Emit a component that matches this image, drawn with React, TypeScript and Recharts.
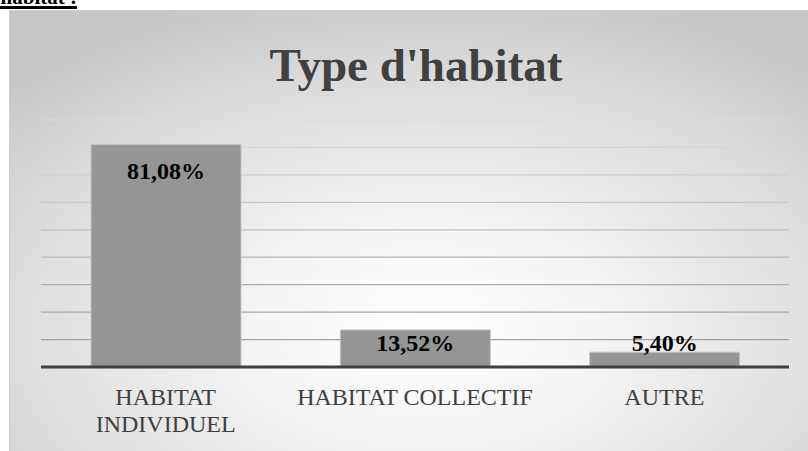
import React from "react";
import { BarChart, Bar, XAxis, YAxis, CartesianGrid, LabelList } from "recharts";

const categories = ["HABITAT INDIVIDUEL", "HABITAT COLLECTIF", "AUTRE"];
const tickLines = [["HABITAT", "INDIVIDUEL"], ["HABITAT COLLECTIF"], ["AUTRE"]];
const values = [81.08, 13.52, 5.4];
const valueLabels = ["81,08%", "13,52%", "5,40%"];
const yTicks = [0, 10, 20, 30, 40, 50, 60, 70, 80, 90];
const title = "Type d'habitat";
const headingText = "Type d'habitat :";

const data = categories.map((c, i) => ({ name: c, value: values[i], label: valueLabels[i] }));

const SERIF = "'Liberation Serif', 'Times New Roman', serif";

const ValueLabel = (props: any) => {
  const { x, y, width, height, index } = props;
  const baseline = Math.min(y + 35, y + height - 16);
  return (
    <text
      x={x + width / 2}
      y={baseline}
      textAnchor="middle"
      fontFamily={SERIF}
      fontWeight="bold"
      fontSize={24}
      fill="#000"
    >
      {valueLabels[index]}
    </text>
  );
};

const CatTick = (props: any) => {
  const { x, y, payload, index } = props;
  const i = typeof index === "number" ? index : categories.indexOf(payload.value);
  const lines = tickLines[i] || [payload.value];
  return (
    <text x={x} y={y} textAnchor="middle" fontFamily={SERIF} fontSize={24} fill="#404040">
      {lines.map((l, k) => (
        <tspan key={k} x={x} dy={k === 0 ? 38 : 27}>
          {l}
        </tspan>
      ))}
    </text>
  );
};

export default function App() {
  return (
    <div style={{ position: "absolute", left: 0, top: 0, width: 808, height: 451, overflow: "hidden", background: "#fff" }}>
      <div
        style={{
          position: "absolute",
          left: 0,
          top: -13,
          width: 77,
          height: 30,
          overflow: "hidden",
          display: "flex",
          justifyContent: "flex-end",
        }}
      >
        <span
          style={{
            whiteSpace: "nowrap",
            fontFamily: SERIF,
            fontWeight: "bold",
            fontSize: 21,
            lineHeight: "21px",
            textDecoration: "underline",
            textDecorationThickness: 3,
            color: "#000",
          }}
        >
          {headingText}
        </span>
      </div>
      <div
        style={{
          position: "absolute",
          left: 9,
          top: 10,
          width: 800,
          height: 442,
          borderLeft: "1px solid #cfcfcf",
          borderTop: "1px solid #cfcfcf",
          background:
            "radial-gradient(ellipse 75% 80% at 52% 72%, #ffffff 0%, #f4f4f4 30%, #dcdcdc 70%, #c6c6c6 100%)",
        }}
      >
        <div
          style={{
            position: "absolute",
            left: 0,
            top: 31,
            width: 798,
            textAlign: "center",
            fontFamily: SERIF,
            fontWeight: "bold",
            fontSize: 47,
            lineHeight: "47px",
            color: "#404040",
            paddingLeft: 14,
            boxSizing: "border-box",
          }}
        >
          {title}
        </div>
        <BarChart
          width={798}
          height={440}
          data={data}
          margin={{ top: 109, right: 19, left: 31, bottom: 24 }}
          style={{ position: "absolute", left: 0, top: 0 }}
        >
          <defs>
            <linearGradient id="gridGrad" gradientUnits="userSpaceOnUse" x1="0" y1="109" x2="0" y2="356">
              <stop offset="0%" stopColor="#dcdcdc" />
              <stop offset="100%" stopColor="#9a9a9a" />
            </linearGradient>
          </defs>
          <CartesianGrid vertical={false} stroke="url(#gridGrad)" strokeWidth={1.2} />
          <YAxis hide domain={[0, 90]} ticks={yTicks} type="number" />
          <XAxis
            dataKey="name"
            height={60}
            tickLine={false}
            tickSize={0}
            tickMargin={0}
            axisLine={{ stroke: "#404040", strokeWidth: 3 }}
            tick={<CatTick />}
            interval={0}
          />
          <Bar dataKey="value" fill="#959595" stroke="#c4c4c4" strokeWidth={1} barSize={150} isAnimationActive={false}>
            <LabelList dataKey="label" content={<ValueLabel />} />
          </Bar>
        </BarChart>
      </div>
    </div>
  );
}
